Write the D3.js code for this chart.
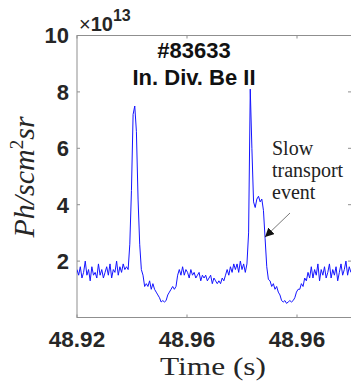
<!DOCTYPE html>
<html>
<head>
<meta charset="utf-8">
<script src="https://cdn.jsdelivr.net/npm/d3@7"></script>
<style>
  body { margin: 0; background: #fff; }
  svg { display: block; }
</style>
</head>
<body>
<svg id="chart" width="351" height="384"></svg>
<script>
// signal samples (units of 1e13 Ph/scm^2sr), uniform sampling from t0
const t0 = 48.92;
const dt = 0.0003;
const signal = [
  1.7,1.5,1.8,1.4,1.6,2.0,1.5,1.7,1.3,1.8,1.5,1.6,1.4,1.9,1.5,1.7,1.4,1.6,1.8,1.5,
  1.9,1.4,1.7,1.6,2.0,1.5,1.8,1.6,1.9,1.7,1.8,1.7,
  2.6,4.5,7.2,7.5,6.6,4.2,2.6,1.7,1.5,1.1,1.2,1.1,1.3,1.0,1.2,1.0,0.9,0.8,
  0.7,0.55,0.6,0.55,0.6,0.8,0.9,1.0,1.1,1.0,1.1,1.5,1.7,1.5,1.8,1.5,1.7,
  1.6,1.4,1.7,1.5,1.6,1.4,1.5,1.6,1.3,1.5,1.4,1.5,1.3,1.4,1.5,1.2,1.4,1.3,
  1.2,1.3,1.2,1.4,1.3,1.5,1.7,1.5,1.8,1.6,1.9,1.7,1.9,1.6,2.0,1.7,1.9,1.6,1.9,
  3.0,8.1,6.0,4.1,3.9,4.2,4.3,4.1,4.2,3.8,2.8,1.8,1.35,1.3,1.1,1.2,1.0,1.1,0.9,0.8,
  0.6,0.55,0.6,0.5,0.55,0.6,0.55,0.6,0.7,0.9,1.0,1.0,1.2,1.1,1.4,1.3,1.6,1.4,
  1.8,1.4,1.7,1.5,1.9,1.3,1.7,1.5,1.8,1.4,1.6,1.9,1.4,1.7,1.5,1.8,1.3,1.6,1.9,1.5,
  1.7,2.0,1.5,1.8,1.6
];

const xTicks = [48.92, 48.94, 48.96];
const xTickLabels = ['48.92', '48.96', '48.96'];
const yTicks = [2, 4, 6, 8, 10];
const xDomain = [48.92, 48.97];
const yDomain = [0, 10];

const axisGrey = '#8f8f8f';
const labelInk = '#262626';

const pLeft = 77, pRight = 352, pTop = 35.5, pBottom = 317.5;

const svg = d3.select('#chart');

var x = d3.scaleLinear().domain(xDomain).range([pLeft, pRight]);
var y = d3.scaleLinear().domain(yDomain).range([pBottom, pTop]);

const defs = svg.append('defs');
defs.append('clipPath').attr('id', 'plotclip')
  .append('rect')
    .attr('x', pLeft).attr('y', pTop)
    .attr('width', pRight - pLeft).attr('height', pBottom - pTop);

// box
svg.append('rect')
  .attr('x', pLeft).attr('y', pTop)
  .attr('width', pRight - pLeft).attr('height', pBottom - pTop)
  .attr('fill', 'none')
  .attr('stroke', axisGrey)
  .attr('stroke-width', 1);

// inward ticks, all four sides
const tickLen = 3;
svg.append('g').selectAll('line')
  .data(xTicks).enter().append('line')
    .attr('x1', d => x(d)).attr('x2', d => x(d))
    .attr('y1', pBottom).attr('y2', pBottom - tickLen)
    .attr('stroke', axisGrey);
svg.append('g').selectAll('line')
  .data(xTicks).enter().append('line')
    .attr('x1', d => x(d)).attr('x2', d => x(d))
    .attr('y1', pTop).attr('y2', pTop + tickLen)
    .attr('stroke', axisGrey);
svg.append('g').selectAll('line')
  .data(yTicks).enter().append('line')
    .attr('x1', pLeft).attr('x2', pLeft + tickLen)
    .attr('y1', d => y(d)).attr('y2', d => y(d))
    .attr('stroke', axisGrey);
svg.append('g').selectAll('line')
  .data(yTicks).enter().append('line')
    .attr('x1', pRight - 1).attr('x2', pRight - 1 - tickLen)
    .attr('y1', d => y(d)).attr('y2', d => y(d))
    .attr('stroke', axisGrey);

// tick labels
svg.append('g').selectAll('text')
  .data(xTicks).enter().append('text')
    .attr('x', d => x(d))
    .attr('y', 346.5)
    .attr('text-anchor', 'middle')
    .attr('fill', labelInk)
    .style('font', 'bold 22.5px "Liberation Sans", Arial, sans-serif')
    .text((d, i) => xTickLabels[i]);

svg.append('g').selectAll('text')
  .data(yTicks).enter().append('text')
    .attr('x', 69)
    .attr('y', d => y(d))
    .attr('dy', '0.36em')
    .attr('text-anchor', 'end')
    .attr('fill', labelInk)
    .style('font', 'bold 22px "Liberation Sans", Arial, sans-serif')
    .text(d => d);

// exponent
const expo = svg.append('text')
  .attr('x', 79).attr('y', 31)
  .attr('fill', labelInk)
  .style('font', 'bold 20px "Liberation Sans", Arial, sans-serif');
expo.append('tspan').style('font-weight', 'normal').text('\u00d7');
expo.append('tspan').text('10');
expo.append('tspan').attr('dy', -10).style('font-size', '16px').text('13');

// data line
var line = d3.line()
  .x((d, i) => x(t0 + i * dt))
  .y(d => y(d));

svg.append('path')
  .datum(signal)
  .attr('clip-path', 'url(#plotclip)')
  .attr('fill', 'none')
  .attr('stroke', '#1414ff')
  .attr('stroke-width', 1)
  .attr('stroke-linejoin', 'round')
  .attr('d', line);

// title
svg.append('text')
  .attr('x', 194).attr('y', 58)
  .attr('text-anchor', 'middle')
  .attr('fill', '#111')
  .style('font', 'bold 22px "Liberation Sans", Arial, sans-serif')
  .text('#83633');
svg.append('text')
  .attr('x', 194).attr('y', 84.5)
  .attr('text-anchor', 'middle')
  .attr('fill', '#111')
  .style('font', 'bold 22px "Liberation Sans", Arial, sans-serif')
  .text('In. Div. Be II');

// axis titles
svg.append('text')
  .attr('x', 213).attr('y', 375)
  .attr('text-anchor', 'middle')
  .attr('fill', labelInk)
  .attr('textLength', 106)
  .attr('lengthAdjust', 'spacingAndGlyphs')
  .style('font', '26px "Liberation Serif", "Times New Roman", serif')
  .text('Time (s)');

const ylab = svg.append('text')
  .attr('transform', 'translate(34,' + 177 + ')rotate(-90)')
  .attr('text-anchor', 'middle')
  .attr('fill', labelInk)
  .style('font', 'italic 30px "Liberation Serif", "Times New Roman", serif');
ylab.append('tspan').text('Ph/scm');
ylab.append('tspan').attr('dy', -11).style('font-size', '19px').style('font-style', 'normal').text('2');
ylab.append('tspan').attr('dy', 11).text('sr');

// annotation
const note = ['Slow', 'transport', 'event'];
svg.append('g').selectAll('text')
  .data(note).enter().append('text')
    .attr('x', 272)
    .attr('y', (d, i) => 154.5 + i * 22)
    .attr('fill', '#222')
    .style('font', '20px "Liberation Serif", "Times New Roman", serif')
    .text(d => d);

defs.append('marker')
  .attr('id', 'head')
  .attr('viewBox', '0 0 10 10')
  .attr('refX', 10).attr('refY', 5)
  .attr('markerWidth', 9).attr('markerHeight', 9)
  .attr('markerUnits', 'userSpaceOnUse')
  .attr('orient', 'auto')
  .append('path')
    .attr('d', 'M0 0 L10 5 L0 10 Z')
    .attr('fill', '#111');

svg.append('line')
  .attr('x1', 290).attr('y1', 213)
  .attr('x2', 265).attr('y2', 237)
  .attr('stroke', '#555')
  .attr('stroke-width', 0.8)
  .attr('marker-end', 'url(#head)');
</script>
</body>
</html>
